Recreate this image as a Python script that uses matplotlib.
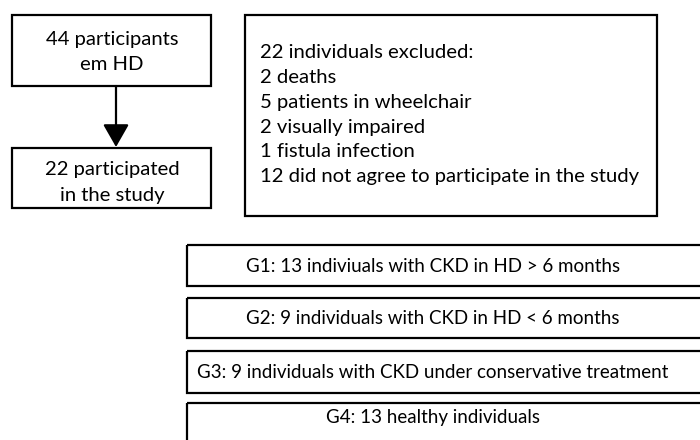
import matplotlib.pyplot as plt
from matplotlib.patches import Rectangle, FancyArrowPatch

plt.rcParams['font.family'] = ['Lato', 'DejaVu Sans']

top_left = ["44 participants", "em HD"]
bottom_left = ["22 participated", "in the study"]
excluded = ["22 individuals excluded:",
            "2 deaths",
            "5 patients in wheelchair",
            "2 visually impaired",
            "1 fistula infection",
            "12 did not agree to participate in the study"]
groups = ["G1: 13 indiviuals with CKD in HD > 6 months",
          "G2: 9 individuals with CKD in HD < 6 months",
          "G3: 9 individuals with CKD under conservative treatment",
          "G4: 13 healthy individuals"]

fig = plt.figure(figsize=(7, 4.4), dpi=100)
ax = fig.add_axes([0, 0, 1, 1])
ax.set_xlim(0, 700)
ax.set_ylim(440, 0)
ax.axis('off')

lw = 1.6
fs = 14.6
fs_g = 13.5

def box(x0, y0, x1, y1):
    ax.add_patch(Rectangle((x0, y0), x1 - x0, y1 - y0, fill=False,
                           edgecolor='black', linewidth=lw))

# left column
box(12, 15, 211, 86)
for i, t in enumerate(top_left):
    ax.text(112, 40 + i * 25, t, ha='center', va='center', fontsize=fs)
box(12, 148, 211, 208)
for i, t in enumerate(bottom_left):
    ax.text(112, 170 + i * 25, t, ha='center', va='center', fontsize=fs)
ax.add_patch(FancyArrowPatch((116, 86), (116, 147),
                             arrowstyle='-|>,head_length=0.7,head_width=0.4',
                             mutation_scale=20, color='black', linewidth=lw,
                             shrinkA=0, shrinkB=0))

# excluded box
box(245, 15, 657, 216)
for i, t in enumerate(excluded):
    ax.text(260, 53 + i * 24.7, t, ha='left', va='center', fontsize=fs)

# group boxes
g_tops = [245, 298, 351, 403]
g_bots = [286, 338, 393, 460]
g_text_y = [266, 318, 372, 418]
for t, y0, y1, ty in zip(groups, g_tops, g_bots, g_text_y):
    box(187, y0, 720, y1)
    ax.text(433, ty, t, ha='center', va='center', fontsize=fs_g)

fig.savefig('out.png', dpi=100, facecolor='white')
